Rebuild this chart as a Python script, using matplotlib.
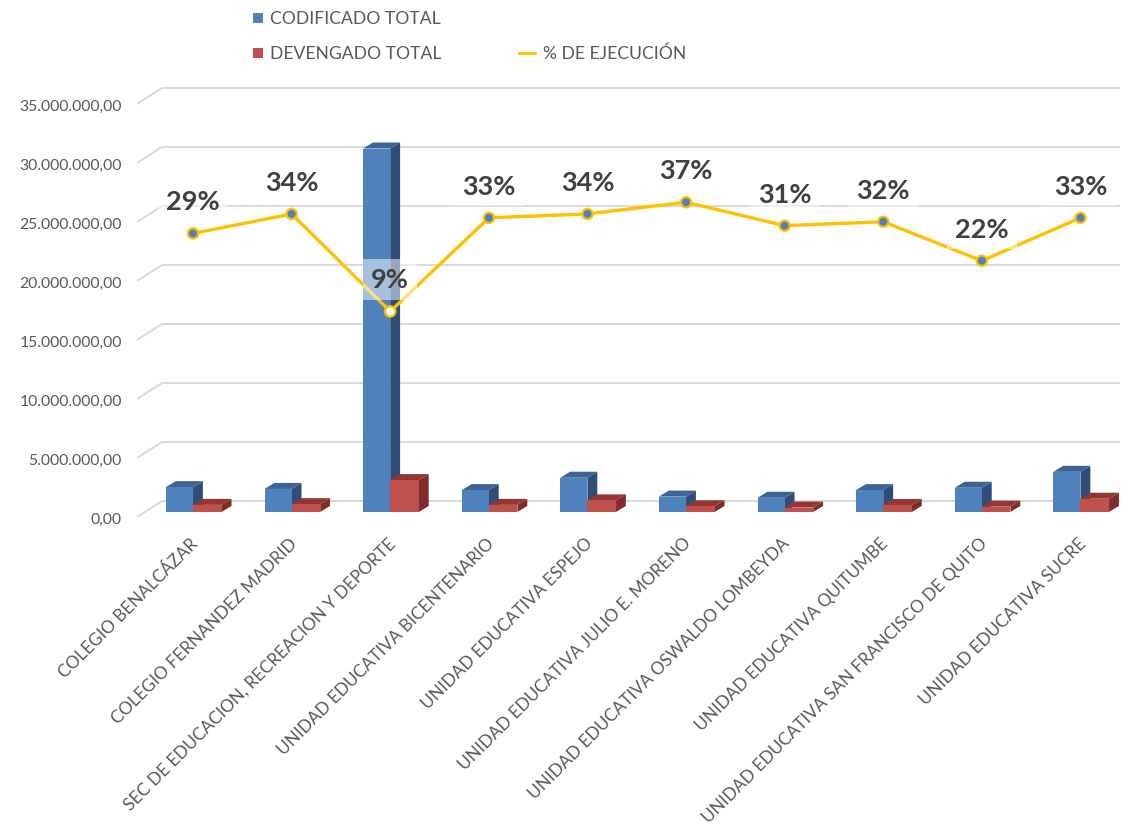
import matplotlib.pyplot as plt
from matplotlib.lines import Line2D
from matplotlib.patches import Polygon, Rectangle

# data
categories = [
    "COLEGIO BENALCÁZAR",
    "COLEGIO FERNANDEZ MADRID",
    "SEC DE EDUCACION, RECREACION Y DEPORTE",
    "UNIDAD EDUCATIVA BICENTENARIO",
    "UNIDAD EDUCATIVA ESPEJO",
    "UNIDAD EDUCATIVA JULIO E. MORENO",
    "UNIDAD EDUCATIVA OSWALDO LOMBEYDA",
    "UNIDAD EDUCATIVA QUITUMBE",
    "UNIDAD EDUCATIVA SAN FRANCISCO DE QUITO",
    "UNIDAD EDUCATIVA SUCRE",
]
codificado = [2.10e6, 1.95e6, 30.8e6, 1.85e6, 2.90e6, 1.30e6, 1.20e6, 1.85e6, 2.05e6, 3.40e6]
devengado = [0.60e6, 0.66e6, 2.70e6, 0.60e6, 0.98e6, 0.48e6, 0.37e6, 0.59e6, 0.45e6, 1.12e6]
ejecucion = [29, 34, 9, 33, 34, 37, 31, 32, 22, 33]
y_ticks = [0, 5e6, 10e6, 15e6, 20e6, 25e6, 30e6, 35e6]

BLUE = ("#4F81BD", "#3C6496", "#2E4E78")   # front, top, side
RED = ("#C0504D", "#943634", "#7F2C2A")
GOLD = "#FFC000"
GRID = "#D9D9D9"
TXT = "#595959"

# pseudo 3-D geometry (category units / value units)
W_BLUE, W_RED = 0.275, 0.29
DX, DY = 0.10, 0.51e6
GRID_DX, GRID_FRONT, GRID_BACK = 0.2535, -0.424e6, 0.932e6
XLIM = (-0.568, 9.422)
YLIM = (-0.424e6, 36.69e6)

plt.rcParams["font.family"] = ["Lato", "DejaVu Sans"]

fig = plt.figure(figsize=(11.25, 8.29), dpi=100)
ax = fig.add_axes([0.1218, 0.3752, 0.8756, 0.5283])
ax.set_xlim(*XLIM)
ax.set_ylim(*YLIM)
for s in ax.spines.values():
    s.set_visible(False)
ax.set_xticks([])

# gridlines with a short perspective segment on the left
for v in y_ticks:
    ax.plot([XLIM[0], XLIM[0] + GRID_DX], [v + GRID_FRONT, v + GRID_BACK],
            color=GRID, lw=1.4, zorder=1, solid_capstyle="butt")
    ax.plot([XLIM[0] + GRID_DX, XLIM[1] - 0.02], [v + GRID_BACK] * 2,
            color=GRID, lw=1.4, zorder=1, solid_capstyle="butt")

ax.set_yticks([v + GRID_FRONT for v in y_ticks])
ax.set_yticklabels([f"{v:,.2f}".replace(",", "X").replace(".", ",").replace("X", ".")
                    for v in y_ticks], color=TXT, fontsize=11.3)
ax.tick_params(axis="y", length=0, pad=11)


def bar3d(x0, w, h, cols, z):
    x1 = x0 + w
    ax.add_patch(Polygon([(x1, 0), (x1, h), (x1 + DX, h + DY), (x1 + DX, DY)],
                         closed=True, facecolor=cols[2], edgecolor="none", zorder=z))
    ax.add_patch(Polygon([(x0, h), (x1, h), (x1 + DX, h + DY), (x0 + DX, h + DY)],
                         closed=True, facecolor=cols[1], edgecolor="none", zorder=z))
    ax.add_patch(Rectangle((x0, 0), w, h, facecolor=cols[0], edgecolor="none", zorder=z))


for i, (c, d) in enumerate(zip(codificado, devengado)):
    bar3d(i - W_BLUE, W_BLUE, c, BLUE, 3)
    bar3d(i, W_RED, d, RED, 4)

for i, name in enumerate(categories):
    ax.text(i - 0.03, -1.9e6, name, rotation=45, rotation_mode="anchor",
            ha="right", va="top", fontsize=12.3, color=TXT, clip_on=False)

# execution percentage on a hidden secondary axis
ax2 = ax.twinx()
ax2.set_ylim(-43.7, 68.6)
ax2.set_xlim(*XLIM)
ax2.axis("off")
xs = list(range(len(ejecucion)))
ax2.plot(xs, ejecucion, color=GOLD, lw=2.4, zorder=5)
faces = ["white" if p < 10 else BLUE[0] for p in ejecucion]
ax2.scatter(xs, ejecucion, s=55, c=faces, edgecolors=GOLD, linewidths=1.6, zorder=6)
for x, p in zip(xs, ejecucion):
    ax2.annotate(f"{p}%", (x, p), xytext=(0, 23), textcoords="offset points",
                 ha="center", va="center", fontsize=19.5, fontweight="bold", color="#404040",
                 bbox=dict(boxstyle="square,pad=0.3", facecolor="white", edgecolor="none",
                           alpha=0.5),
                 zorder=7)

# legend drawn in figure pixels
H = 829


def fy(py):
    return 1 - py / H


fig.patches.append(Rectangle((253 / 1125, fy(24)), 10 / 1125, 10 / H, facecolor=BLUE[0],
                             edgecolor="none", transform=fig.transFigure))
fig.text(270 / 1125, fy(19), "CODIFICADO TOTAL", fontsize=12.6, color=TXT, va="center")
fig.patches.append(Rectangle((253 / 1125, fy(59)), 10 / 1125, 10 / H, facecolor=RED[0],
                             edgecolor="none", transform=fig.transFigure))
fig.text(270 / 1125, fy(54), "DEVENGADO TOTAL", fontsize=12.6, color=TXT, va="center")
fig.lines.append(Line2D([519 / 1125, 535 / 1125], [fy(54), fy(54)], color=GOLD, lw=2,
                        transform=fig.transFigure))
fig.text(543 / 1125, fy(54), "% DE EJECUCIÓN", fontsize=12.6, color=TXT, va="center")

fig.savefig("out.png", dpi=100, facecolor="white")
